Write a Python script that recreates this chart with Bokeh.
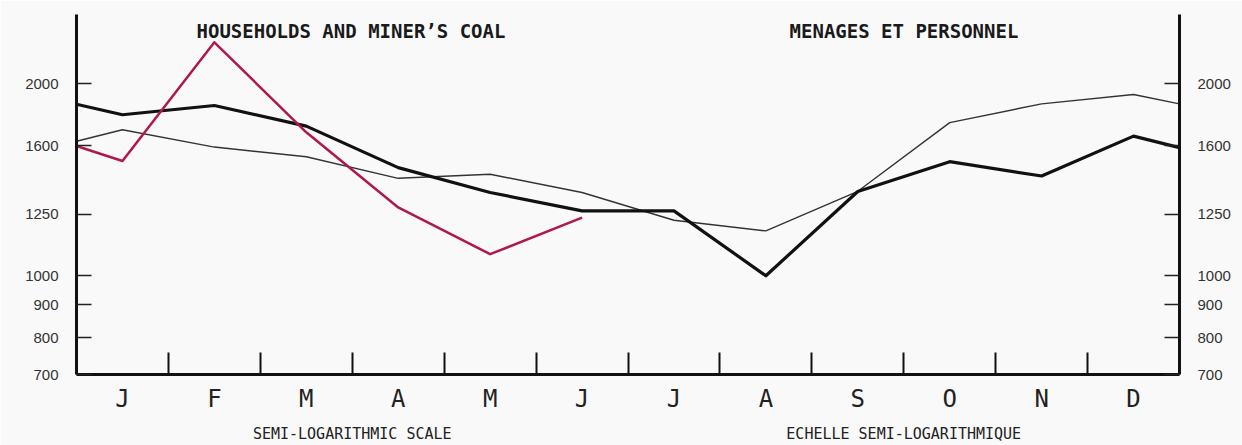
from bokeh.plotting import figure
from bokeh.models import Range1d, LogAxis, LinearAxis, FixedTicker, Label
from bokeh.core.properties import value
from bokeh.embed import file_html
from bokeh.resources import INLINE

# ---- data ----
months = ["J", "F", "M", "A", "M", "J", "J", "A", "S", "O", "N", "D"]
# x positions: year start, mid-month of each month, year end
pos_full = [0, 0.5, 1.5, 2.5, 3.5, 4.5, 5.5, 6.5, 7.5, 8.5, 9.5, 10.5, 11.5, 12]
pos_red = [0, 0.5, 1.5, 2.5, 3.5, 4.5, 5.5]
thick_series = [1858, 1789, 1850, 1717, 1478, 1351, 1264, 1264, 1000, 1356, 1510, 1434, 1656, 1589]
thin_series = [1626, 1695, 1592, 1537, 1422, 1443, 1351, 1222, 1176, 1357, 1739, 1861, 1925, 1861]
red_series = [1598, 1514, 2324, 1679, 1280, 1081, 1234]
y_ticks = [700, 800, 900, 1000, 1250, 1600, 2000]
title_left = "HOUSEHOLDS AND MINER\u2019S COAL"
title_right = "MENAGES ET PERSONNEL"
note_left = "SEMI-LOGARITHMIC SCALE"
note_right = "ECHELLE SEMI-LOGARITHMIQUE"
note_pos = [3, 9]

BG = "#f9f9f9"

p = figure(width=1242, height=445,
           x_range=Range1d(0, 12), y_range=Range1d(700, 2570),
           y_axis_type="log", x_axis_location=None, y_axis_location=None,
           output_backend="svg", toolbar_location=None)
p.min_border_left = 76
p.min_border_right = 63
p.min_border_top = 14
p.min_border_bottom = 71
p.outline_line_color = None
p.background_fill_color = BG
p.border_fill_color = BG
for g in p.grid:
    g.visible = False

ylab = {t: str(t) for t in y_ticks}

def y_axis():
    ax = LogAxis(ticker=FixedTicker(ticks=y_ticks))
    ax.major_label_overrides = ylab
    ax.major_tick_in = 15
    ax.major_tick_out = 0
    ax.major_tick_line_width = 1.5
    ax.major_tick_line_color = "#222222"
    ax.minor_tick_line_color = None
    ax.axis_line_width = 3
    ax.axis_line_color = "#111111"
    ax.major_label_text_font = "Liberation Sans"
    ax.major_label_text_font_size = "15px"
    ax.major_label_text_color = "#333333"
    ax.major_label_standoff = 18
    return ax

p.add_layout(y_axis(), "left")
p.add_layout(y_axis(), "right")

centers = [i + 0.5 for i in range(12)]
bounds = [i for i in range(1, 12)]
xa = LinearAxis(ticker=FixedTicker(ticks=centers, minor_ticks=bounds))
xa.major_label_overrides = {c: m for c, m in zip(centers, months)}
xa.major_tick_line_color = None
xa.minor_tick_in = 22
xa.minor_tick_out = 0
xa.minor_tick_line_width = 2
xa.minor_tick_line_color = "#111111"
xa.axis_line_width = 3
xa.axis_line_color = "#111111"
xa.major_label_text_font = "DejaVu Sans Mono"
xa.major_label_text_font_size = "24px"
xa.major_label_text_color = "#222222"
xa.major_label_standoff = 4
p.add_layout(xa, "below")

# second, bare axis carrying the scale notes
na = LinearAxis(ticker=FixedTicker(ticks=note_pos, minor_ticks=[]))
na.major_label_overrides = {note_pos[0]: note_left, note_pos[1]: note_right}
na.axis_line_color = None
na.major_tick_line_color = None
na.minor_tick_line_color = None
na.major_tick_in = 0
na.major_tick_out = 0
na.major_label_text_font = "DejaVu Sans Mono"
na.major_label_text_font_size = "15px"
na.major_label_text_color = "#222222"
na.major_label_standoff = 9
p.add_layout(na, "below")

p.line(pos_full, thin_series, line_color="#333333", line_width=1.4)
p.line(pos_full, thick_series, line_color="#111111", line_width=3.2, line_join="round")
p.line(pos_red, red_series, line_color="#b0184c", line_width=2.5, line_join="round")

for txt, x in [(title_left, 1.306), (title_right, 7.758)]:
    p.add_layout(Label(x=x, y=2420, text=txt, text_font="DejaVu Sans Mono",
                       text_font_style="bold", text_font_size="19px",
                       text_color="#1a1a1a", text_baseline="middle", text_align="left"))

open("out.html", "w").write(file_html(p, INLINE))
